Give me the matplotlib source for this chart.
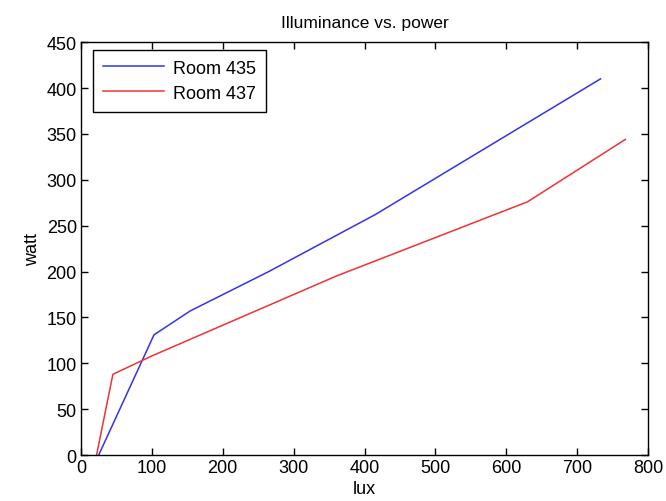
import matplotlib
matplotlib.use('Agg')
import matplotlib.pyplot as plt

plt.rcParams['font.family'] = ['Liberation Sans', 'DejaVu Sans']

# Room 435
lux_435 = [25, 103, 154, 265, 415, 733]
watt_435 = [0, 131, 157, 200, 262, 410]
# Room 437
lux_437 = [22, 45, 100, 360, 630, 768]
watt_437 = [0, 88, 108, 195, 276, 344]

xticks = list(range(0, 801, 100))
yticks = list(range(0, 451, 50))

fig = plt.figure(figsize=(6.66, 5.02), dpi=100)
ax = fig.add_axes([0.1216, 0.0916, 0.8514, 0.8224])

ax.plot(lux_435, watt_435, color='#3333ee', lw=1.1, label='Room 435')
ax.plot(lux_437, watt_437, color='#ee3333', lw=1.1, label='Room 437')

ax.set_xlim(0, 800)
ax.set_ylim(0, 450)
ax.set_xticks(xticks)
ax.set_yticks(yticks)
ax.tick_params(direction='in', top=True, right=True, length=5, width=1,
               labelsize=13, pad=3)
for s in ax.spines.values():
    s.set_linewidth(1)

ax.set_title('Illuminance vs. power', fontsize=12.5, pad=11)
ax.set_xlabel('lux', fontsize=13, labelpad=3)
ax.set_ylabel('watt', fontsize=13, labelpad=4)

leg = ax.legend(loc='upper left', fontsize=13, fancybox=False, edgecolor='black',
                framealpha=1, handlelength=3.4, handletextpad=0.5, borderpad=0.55,
                labelspacing=0.45, borderaxespad=0, bbox_to_anchor=(0.021, 0.982))
leg.get_frame().set_linewidth(1)

fig.savefig('out.png', dpi=100)
